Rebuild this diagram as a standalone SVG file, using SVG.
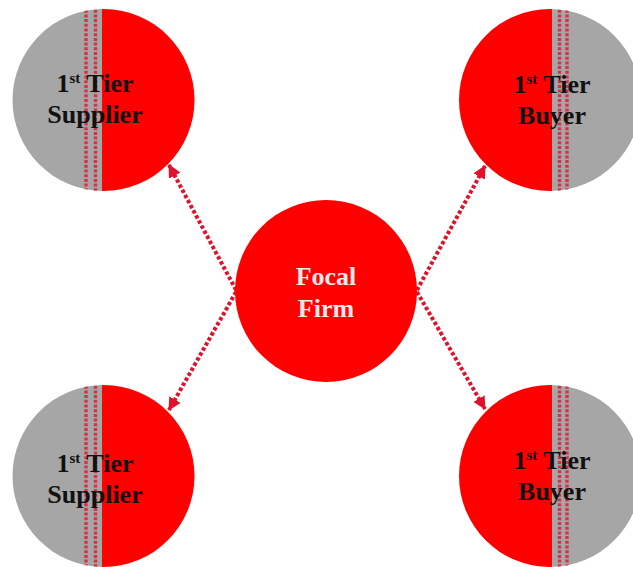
<svg xmlns="http://www.w3.org/2000/svg" width="633" height="567" viewBox="0 0 633 567">
<style>
.gray{fill:#a6a6a6}
.red{fill:#ff0000}
.band{stroke:#d9304a;stroke-width:3.4;stroke-dasharray:3 1.7;fill:none}
.conn{stroke:#e0112b;stroke-width:4;stroke-dasharray:3.5 2.3;fill:none;marker-end:url(#ah)}
.lbl{font-family:"Liberation Serif","Times New Roman",serif;font-weight:bold;font-size:26px;fill:#111;text-anchor:middle}
.sup{font-size:15px}
.focal{font-family:"Liberation Serif","Times New Roman",serif;font-weight:bold;font-size:26px;fill:#fbe8e8;text-anchor:middle}
</style>
<defs>
<marker id="ah" viewBox="0 0 13 13" refX="12" refY="6.5" markerWidth="13" markerHeight="13" markerUnits="userSpaceOnUse" orient="auto">
<path d="M0,0 L13,6.5 L0,13 Z" fill="#e0112b"/>
</marker>
<clipPath id="cTL"><circle cx="103.5" cy="100" r="91"/></clipPath>
<clipPath id="cTR"><circle cx="550" cy="100" r="91"/></clipPath>
<clipPath id="cBL"><circle cx="103.5" cy="476" r="91"/></clipPath>
<clipPath id="cBR"><circle cx="550" cy="476" r="91"/></clipPath>
</defs>
<rect width="633" height="567" fill="#fff"/>
<g id="connectors">
<line class="conn" x1="236" y1="290" x2="169" y2="165"/>
<line class="conn" x1="236" y1="292" x2="169" y2="410"/>
<line class="conn" x1="417" y1="290" x2="485" y2="166"/>
<line class="conn" x1="417" y1="292" x2="485" y2="409"/>
</g>
<g id="supplier-top">
<g clip-path="url(#cTL)">
<rect class="gray" x="0" y="0" width="102" height="200"/>
<rect class="red" x="102" y="0" width="100" height="200"/>
<line class="band" x1="86" y1="5" x2="86" y2="195"/>
<line class="band" x1="95.5" y1="5" x2="95.5" y2="195"/>
</g>
<text class="lbl" x="95" y="92">1<tspan class="sup" dy="-9">st</tspan><tspan dy="9"> Tier</tspan></text>
<text class="lbl" x="95" y="123">Supplier</text>
</g>
<g id="buyer-top">
<g clip-path="url(#cTR)">
<rect class="red" x="455" y="0" width="97" height="200"/>
<rect class="gray" x="552" y="0" width="100" height="200"/>
<line class="band" x1="559.5" y1="5" x2="559.5" y2="195"/>
<line class="band" x1="567" y1="5" x2="567" y2="195"/>
</g>
<text class="lbl" x="552" y="93">1<tspan class="sup" dy="-9">st</tspan><tspan dy="9"> Tier</tspan></text>
<text class="lbl" x="552" y="124">Buyer</text>
</g>
<g id="focal-firm">
<circle class="red" cx="326" cy="291" r="91"/>
<text class="focal" x="326" y="285">Focal</text>
<text class="focal" x="326" y="317">Firm</text>
</g>
<g id="supplier-bottom">
<g clip-path="url(#cBL)">
<rect class="gray" x="0" y="380" width="102" height="200"/>
<rect class="red" x="102" y="380" width="100" height="200"/>
<line class="band" x1="86" y1="381" x2="86" y2="571"/>
<line class="band" x1="95.5" y1="381" x2="95.5" y2="571"/>
</g>
<text class="lbl" x="95" y="472">1<tspan class="sup" dy="-9">st</tspan><tspan dy="9"> Tier</tspan></text>
<text class="lbl" x="95" y="503">Supplier</text>
</g>
<g id="buyer-bottom">
<g clip-path="url(#cBR)">
<rect class="red" x="455" y="380" width="97" height="200"/>
<rect class="gray" x="552" y="380" width="100" height="200"/>
<line class="band" x1="559.5" y1="381" x2="559.5" y2="571"/>
<line class="band" x1="567" y1="381" x2="567" y2="571"/>
</g>
<text class="lbl" x="552" y="469">1<tspan class="sup" dy="-9">st</tspan><tspan dy="9"> Tier</tspan></text>
<text class="lbl" x="552" y="500">Buyer</text>
</g>
</svg>
